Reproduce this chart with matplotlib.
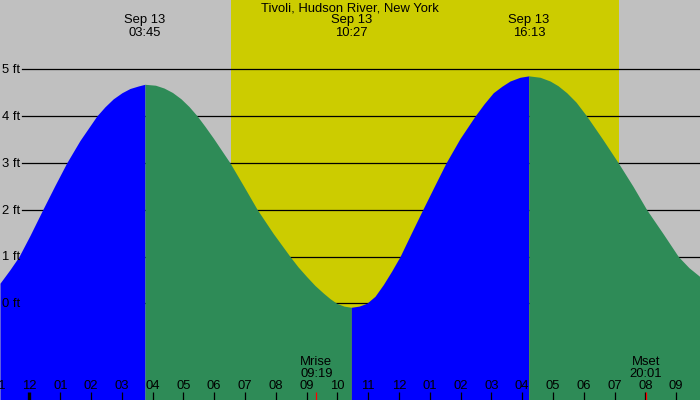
import matplotlib
matplotlib.use("Agg")
import matplotlib.pyplot as plt
import matplotlib.transforms as mtransforms
import numpy as np

plt.rcParams['font.family'] = ['Liberation Sans', 'DejaVu Sans']
FS = 9.4

# ---- data (hours after Sep 13 00:00, feet) ----
title = "Tivoli, Hudson River, New York"
tide_hours = [-0.958, -0.633, -0.341, 0.016, 0.429, 0.828, 1.208, 1.640, 2.183, 2.452,
              2.722, 3.004, 3.264, 3.540, 3.75,
              4.092, 4.368, 4.644, 4.920, 5.180, 5.450, 5.700, 5.970, 6.236, 6.512,
              6.950, 7.399, 7.918, 8.461, 8.720, 9.003, 9.273, 9.542, 9.760, 9.977,
              10.214, 10.45,
              10.702, 10.952, 11.221, 11.491, 11.764, 12.034, 12.400, 12.770, 13.147, 13.527,
              13.981, 14.469, 14.761, 15.063, 15.346, 15.606, 15.931, 16.217,
              16.583, 16.907, 17.164, 17.447, 17.749, 18.097, 18.610, 19.123, 19.600, 20.045,
              20.575, 21.071, 21.419, 21.776]
tide_feet = [0.43, 0.72, 1.0, 1.45, 2.0, 2.52, 3.0, 3.48, 4.0, 4.20,
             4.37, 4.50, 4.59, 4.645, 4.68,
             4.66, 4.60, 4.505, 4.37, 4.205, 4.0, 3.78, 3.53, 3.27, 3.0,
             2.51, 2.0, 1.49, 1.0, 0.78, 0.57, 0.38, 0.22, 0.10, 0.0,
             -0.06, -0.085,
             -0.06, 0.0, 0.15, 0.40, 0.69, 1.0, 1.5, 2.0, 2.5, 3.0,
             3.52, 4.0, 4.26, 4.50, 4.64, 4.75, 4.83, 4.86,
             4.83, 4.75, 4.65, 4.50, 4.30, 4.0, 3.51, 3.0, 2.50, 2.0,
             1.49, 1.0, 0.76, 0.57]
extreme_hours = [3.75, 10.45, 16.217]
extreme_labels = ["Sep 13\n03:45", "Sep 13\n10:27", "Sep 13\n16:13"]
sunrise_h, sunset_h = 6.55, 19.13
moon_hours = [9.317, 20.017]
moon_labels = ["Mrise\n09:19", "Mset\n20:01"]
grid_feet = [0, 1, 2, 3, 4, 5]
hour_ticks = list(range(-1, 22))

xlim = (-0.958, 21.776)
ylim = (-2.066, 6.481)

fig = plt.figure(figsize=(7, 4), dpi=100)
ax = fig.add_axes([0, 0, 1, 1])
ax.set_xlim(*xlim)
ax.set_ylim(*ylim)
ax.axis("off")
fig.patch.set_facecolor("#c0c0c0")
ax.add_patch(plt.Rectangle((0, 0), 1, 1, transform=ax.transAxes, color="#c0c0c0", zorder=0))

ax.axvspan(sunrise_h, sunset_h, color="#cccc00", zorder=1, lw=0)

yt = mtransforms.blended_transform_factory(ax.transAxes, ax.transData)
for g in grid_feet:
    ax.axhline(g, xmin=22 / 700, xmax=1, color="black", lw=0.9, zorder=2)
    ax.text(0.029, g - 0.02, f"{g} ft", transform=yt, ha="right", va="center",
            fontsize=FS, color="black", zorder=5)

t = np.array(tide_hours)
h = np.array(tide_feet)
e1, e2, e3 = extreme_hours
bottom = ylim[0]
ax.fill_between(t, bottom, h, where=(t <= e1), color="#0000ff", lw=0, zorder=3)
ax.fill_between(t, bottom, h, where=(t >= e1) & (t <= e2), color="#2e8b57", lw=0, zorder=3)
ax.fill_between(t, bottom, h, where=(t >= e2) & (t <= e3), color="#0000ff", lw=0, zorder=3)
ax.fill_between(t, bottom, h, where=(t >= e3), color="#2e8b57", lw=0, zorder=3)

bt = mtransforms.blended_transform_factory(ax.transData, ax.transAxes)
ax.text(0.5, 1 - 8.5 / 400, title, transform=ax.transAxes, ha="center", va="center",
        fontsize=FS, zorder=6)
for eh, lab in zip(extreme_hours, extreme_labels):
    ax.text(eh, 1 - 26.5 / 400, lab, transform=bt, ha="center", va="center",
            fontsize=FS, linespacing=1.05, zorder=6)

for hr in hour_ticks:
    lab = f"{(hr % 12) or 12:02d}"
    ax.text(hr, 14 / 400, lab, transform=bt, ha="center", va="center", fontsize=FS, zorder=6)
    lw = 2.4 if hr % 24 == 0 else 0.9
    ax.plot([hr, hr], [0, 8 / 400], transform=bt, color="black", lw=lw, zorder=6,
            solid_capstyle="butt")

for mh, lab in zip(moon_hours, moon_labels):
    ax.plot([mh, mh], [0, 8 / 400], transform=bt, color="red", lw=0.9, zorder=7,
            solid_capstyle="butt")
    ax.text(mh, 32 / 400, lab, transform=bt, ha="center", va="center",
            fontsize=FS, linespacing=1.05, zorder=6)

fig.savefig("out.png", dpi=100, facecolor=fig.get_facecolor())
